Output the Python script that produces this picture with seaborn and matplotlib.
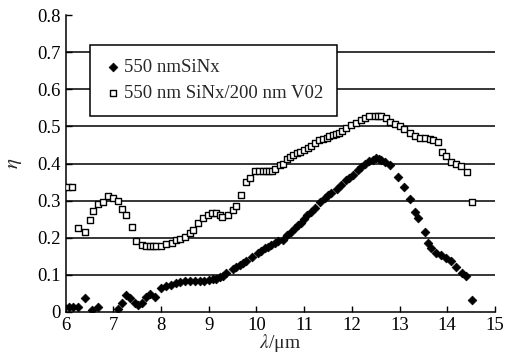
import numpy as np
import pandas as pd
import matplotlib
matplotlib.use("Agg")
import matplotlib.pyplot as plt
import seaborn as sns

# 550 nm SiNx (filled diamonds)
sinx_x = [5.97, 6.06, 6.15, 6.25, 6.40, 6.54, 6.67, 7.09, 7.17, 7.27, 7.34, 7.45, 7.51,
          7.59, 7.69, 7.76, 7.87, 8.00, 8.11, 8.20, 8.32, 8.40, 8.50, 8.60, 8.70, 8.81,
          8.90, 9.00, 9.08, 9.16, 9.23, 9.30, 9.37, 9.50, 9.58, 9.65, 9.72, 9.79, 9.90,
          10.03, 10.10, 10.17, 10.24, 10.31, 10.38, 10.45, 10.56, 10.65, 10.72, 10.80,
          10.87, 10.94, 11.00, 11.07, 11.15, 11.22, 11.33, 11.43, 11.50, 11.57, 11.68,
          11.78, 11.88, 11.95, 12.02, 12.12, 12.20, 12.27, 12.37, 12.44, 12.51, 12.58,
          12.62, 12.69, 12.80, 12.96, 13.10, 13.21, 13.32, 13.38, 13.53, 13.60, 13.67,
          13.77, 13.88, 13.98, 14.08, 14.19, 14.32, 14.40, 14.53]
sinx_y = [0.012, 0.012, 0.012, 0.012, 0.038, 0.005, 0.012, 0.008, 0.025, 0.046, 0.038,
          0.025, 0.019, 0.025, 0.041, 0.048, 0.040, 0.065, 0.070, 0.073, 0.078, 0.080,
          0.082, 0.082, 0.082, 0.082, 0.083, 0.085, 0.088, 0.090, 0.093, 0.098, 0.106,
          0.115, 0.120, 0.127, 0.131, 0.136, 0.149, 0.158, 0.165, 0.172, 0.176, 0.180,
          0.185, 0.190, 0.194, 0.207, 0.216, 0.226, 0.233, 0.240, 0.250, 0.261, 0.270,
          0.280, 0.297, 0.307, 0.314, 0.320, 0.330, 0.342, 0.356, 0.362, 0.369, 0.383,
          0.390, 0.400, 0.406, 0.410, 0.414, 0.413, 0.409, 0.405, 0.395, 0.365, 0.337,
          0.304, 0.270, 0.253, 0.216, 0.186, 0.172, 0.160, 0.154, 0.145, 0.136, 0.122,
          0.106, 0.097, 0.032]

# 550 nm SiNx / 200 nm VO2 (open squares)
vo2_x = [5.96, 6.05, 6.14, 6.25, 6.40, 6.50, 6.57, 6.67, 6.78, 6.88, 6.99, 7.09, 7.17,
         7.27, 7.38, 7.48, 7.59, 7.69, 7.76, 7.83, 7.90, 8.00, 8.11, 8.22, 8.32, 8.39,
         8.50, 8.60, 8.67, 8.77, 8.87, 8.98, 9.06, 9.16, 9.23, 9.28, 9.40, 9.50, 9.58,
         9.68, 9.79, 9.86, 9.96, 10.05, 10.13, 10.20, 10.27, 10.32, 10.38, 10.49, 10.56,
         10.63, 10.70, 10.77, 10.84, 10.92, 11.00, 11.08, 11.15, 11.22, 11.32, 11.40,
         11.47, 11.53, 11.60, 11.67, 11.74, 11.80, 11.88, 11.99, 12.09, 12.20, 12.27,
         12.37, 12.48, 12.55, 12.62, 12.72, 12.79, 12.90, 13.00, 13.10, 13.21, 13.32,
         13.42, 13.53, 13.63, 13.70, 13.80, 13.90, 13.98, 14.08, 14.19, 14.30, 14.41,
         14.52]
vo2_y = [0.337, 0.337, 0.337, 0.226, 0.216, 0.248, 0.273, 0.291, 0.297, 0.313, 0.307,
         0.300, 0.277, 0.261, 0.230, 0.192, 0.180, 0.178, 0.178, 0.178, 0.178, 0.178,
         0.183, 0.187, 0.194, 0.196, 0.203, 0.212, 0.220, 0.239, 0.253, 0.261, 0.266,
         0.266, 0.262, 0.257, 0.261, 0.275, 0.286, 0.315, 0.351, 0.361, 0.380, 0.380,
         0.380, 0.380, 0.380, 0.380, 0.385, 0.396, 0.400, 0.412, 0.418, 0.423, 0.428,
         0.432, 0.436, 0.441, 0.446, 0.456, 0.464, 0.466, 0.469, 0.473, 0.477, 0.480,
         0.482, 0.488, 0.495, 0.504, 0.510, 0.517, 0.522, 0.528, 0.528, 0.528, 0.528,
         0.522, 0.513, 0.507, 0.501, 0.493, 0.483, 0.474, 0.470, 0.468, 0.465, 0.463,
         0.459, 0.430, 0.419, 0.405, 0.399, 0.393, 0.378, 0.297]

labels = ["550 nmSiNx", "550 nm SiNx/200 nm V02"]

df = pd.concat([
    pd.DataFrame({"x": sinx_x, "y": sinx_y, "s": labels[0]}),
    pd.DataFrame({"x": vo2_x, "y": vo2_y, "s": labels[1]}),
])

sns.set_style("ticks")
plt.rcParams["font.family"] = ["Liberation Serif", "DejaVu Serif"]
plt.rcParams["mathtext.fontset"] = "stix"

fig = plt.figure(figsize=(5.06, 3.61), dpi=100)
ax = fig.add_axes([0.130, 0.136, 0.848, 0.822])

for yv in np.arange(0.1, 0.75, 0.1):
    ax.axhline(yv, color="black", lw=1.1, zorder=0)

sns.scatterplot(data=df[df["s"] == labels[0]], x="x", y="y", ax=ax,
                marker="D", s=20, color="black", edgecolor="black",
                linewidth=0.5, label=labels[0], zorder=3)
sns.scatterplot(data=df[df["s"] == labels[1]], x="x", y="y", ax=ax,
                marker="s", s=18, facecolor="white", edgecolor="black",
                linewidth=1.0, label=labels[1], zorder=3)

ax.set_xlim(6, 15)
ax.set_ylim(0, 0.8)
ax.set_xticks(range(6, 16))
ax.set_yticks(np.arange(0, 0.81, 0.1))
ax.set_yticklabels(["0"] + [f"{v:.1f}" for v in np.arange(0.1, 0.81, 0.1)])
ax.tick_params(direction="in", length=4, width=1, labelsize=13.5, colors="black")
for side in ["top", "right"]:
    ax.spines[side].set_visible(False)
for side in ["left", "bottom"]:
    ax.spines[side].set_color("black")
    ax.spines[side].set_linewidth(1.1)

ax.set_xlabel(r"$\lambda$/μm", fontsize=14, labelpad=-1)
ax.set_ylabel(r"$\eta$", fontsize=15, labelpad=10)

leg = ax.legend(loc="upper left", bbox_to_anchor=(0.056, 0.9), fontsize=13.5,
                frameon=True, fancybox=False, edgecolor="black",
                handletextpad=0.05, handlelength=1.0, borderpad=0.75,
                labelspacing=0.45, borderaxespad=0)
leg.get_frame().set_linewidth(1.1)
leg.get_frame().set_alpha(1)

fig.savefig("out.png", dpi=100)
